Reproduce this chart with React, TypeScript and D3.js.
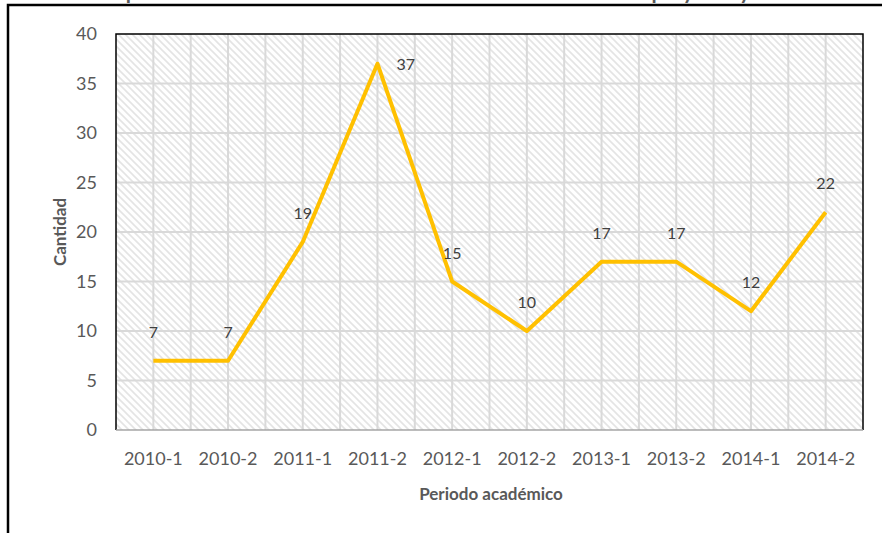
import * as d3 from "d3";
import React, { useEffect, useRef } from "react";

// datos
const periodos = ["2010-1", "2010-2", "2011-1", "2011-2", "2012-1", "2012-2", "2013-1", "2013-2", "2014-1", "2014-2"];
const cantidad = [7, 7, 19, 37, 15, 10, 17, 17, 12, 22];
const yTicks = [0, 5, 10, 15, 20, 25, 30, 35, 40];
const titulo = "Comportamiento de estudiantes inscritos en la modalidad de proyecto y tesis";

function App() {
    const svgRef = useRef(null);

    useEffect(() => {
        const svg = d3.select(svgRef.current);
        const width = 882;
        const height = 533;
        const plot = { left: 116, right: 863, top: 34, bottom: 430 };
        const font = "Lato, 'Open Sans', sans-serif";

        svg.selectAll("*").remove();

        // trama diagonal del área de trazado
        const defs = svg.append("defs");
        const pat = defs.append("pattern")
            .attr("id", "hatch")
            .attr("patternUnits", "userSpaceOnUse")
            .attr("width", 7)
            .attr("height", 7);
        pat.append("rect").attr("width", 7).attr("height", 7).attr("fill", "#ffffff");
        pat.append("path")
            .attr("d", "M-1,-1 L8,8 M-1,6 L1,8 M6,-1 L8,1")
            .attr("stroke", "#e4e4e4")
            .attr("stroke-width", 1.6);

        // borde exterior del gráfico (cortado a la derecha y abajo)
        svg.append("rect")
            .attr("x", 8)
            .attr("y", 5)
            .attr("width", width)
            .attr("height", height)
            .attr("fill", "none")
            .attr("stroke", "#000")
            .attr("stroke-width", 2.5);

        // título, casi fuera de la imagen (solo asoman los trazos descendentes)
        svg.append("text")
            .attr("x", 440)
            .attr("y", -1.5)
            .attr("text-anchor", "middle")
            .attr("font-family", font)
            .attr("font-weight", "bold")
            .attr("font-size", 21)
            .attr("fill", "#595959")
            .text(titulo);

        const x = d3.scaleBand()
            .domain(periodos)
            .range([plot.left, plot.right]);

        const y = d3.scaleLinear()
            .domain([0, 40])
            .range([plot.bottom, plot.top]);

        svg.append("rect")
            .attr("x", plot.left)
            .attr("y", plot.top)
            .attr("width", plot.right - plot.left)
            .attr("height", plot.bottom - plot.top)
            .attr("fill", "url(#hatch)");

        // líneas de división verticales (principales y secundarias)
        const half = x.bandwidth() / 2;
        const vx = d3.range(1, periodos.length * 2).map((k) => plot.left + k * half);
        svg.append("g")
            .selectAll("line")
            .data(vx)
            .join("line")
            .attr("x1", (d) => d)
            .attr("x2", (d) => d)
            .attr("y1", plot.top)
            .attr("y2", plot.bottom)
            .attr("stroke", "#d9d9d9")
            .attr("stroke-width", 2);

        svg.append("g")
            .selectAll("line")
            .data(yTicks.slice(1, -1))
            .join("line")
            .attr("x1", plot.left)
            .attr("x2", plot.right)
            .attr("y1", (d) => y(d))
            .attr("y2", (d) => y(d))
            .attr("stroke", "#d9d9d9")
            .attr("stroke-width", 2);

        // marco del área de trazado
        svg.append("path")
            .attr("d", `M${plot.left},${plot.bottom} V${plot.top} H${plot.right} V${plot.bottom}`)
            .attr("fill", "none")
            .attr("stroke", "#000")
            .attr("stroke-width", 1.5);

        svg.append("line")
            .attr("x1", plot.left)
            .attr("x2", plot.right)
            .attr("y1", plot.bottom)
            .attr("y2", plot.bottom)
            .attr("stroke", "#a6a6a6")
            .attr("stroke-width", 1.5);

        // etiquetas del eje Y
        svg.append("g")
            .selectAll("text")
            .data(yTicks)
            .join("text")
            .attr("x", 97)
            .attr("y", (d) => y(d))
            .attr("dy", "0.35em")
            .attr("text-anchor", "end")
            .attr("font-family", font)
            .attr("font-size", 18)
            .attr("fill", "#595959")
            .text((d) => d);

        // etiquetas del eje X
        svg.append("g")
            .selectAll("text")
            .data(periodos)
            .join("text")
            .attr("x", (d) => x(d) + half)
            .attr("y", 465)
            .attr("text-anchor", "middle")
            .attr("font-family", font)
            .attr("font-size", 18)
            .attr("fill", "#595959")
            .text((d) => d);

        // títulos de ejes
        svg.append("text")
            .attr("transform", `translate(66,232) rotate(-90)`)
            .attr("text-anchor", "middle")
            .attr("font-family", font)
            .attr("font-weight", "bold")
            .attr("font-size", 17)
            .attr("fill", "#595959")
            .text("Cantidad");

        svg.append("text")
            .attr("x", 491)
            .attr("y", 500)
            .attr("text-anchor", "middle")
            .attr("font-family", font)
            .attr("font-weight", "bold")
            .attr("font-size", 17)
            .attr("fill", "#595959")
            .text("Periodo académico");

        // serie
        const pts = periodos.map((p, i) => ({ p, v: cantidad[i] }));
        const line = d3.line()
            .x((d) => x(d.p) + half)
            .y((d) => y(d.v));

        svg.append("path")
            .datum(pts)
            .attr("fill", "none")
            .attr("stroke", "#ffc000")
            .attr("stroke-width", 4)
            .attr("stroke-linejoin", "round")
            .attr("d", line);

        // etiquetas de datos
        const maxV = d3.max(cantidad);
        svg.append("g")
            .selectAll("text")
            .data(pts)
            .join("text")
            .attr("x", (d) => x(d.p) + half + (d.v === maxV ? 19 : 0))
            .attr("y", (d) => y(d.v) + (d.v === maxV ? 6 : -23))
            .attr("text-anchor", (d) => (d.v === maxV ? "start" : "middle"))
            .attr("font-family", font)
            .attr("font-size", 16)
            .attr("fill", "#404040")
            .text((d) => d.v);
    }, []);

    return (
        <svg
            ref={svgRef}
            width={882}
            height={533}
            style={{ position: "absolute", left: 0, top: 0, display: "block", background: "#fff" }}
        ></svg>
    );
}

export default App;
